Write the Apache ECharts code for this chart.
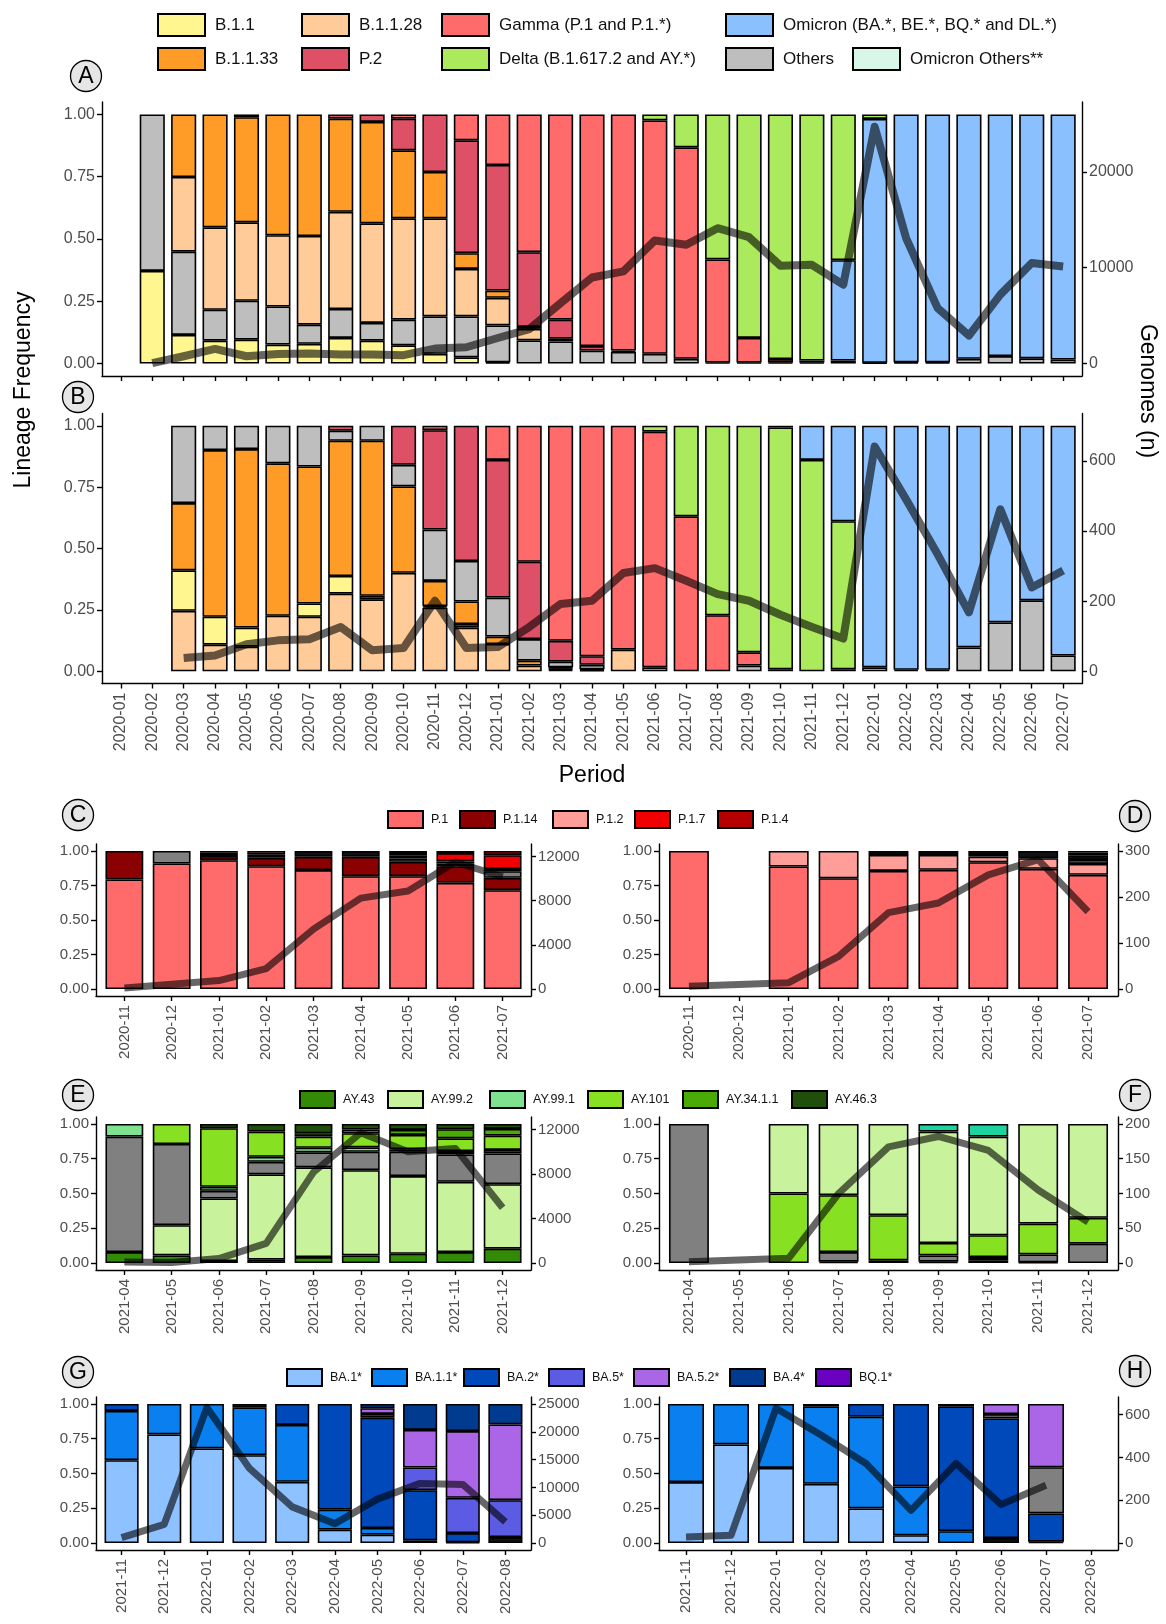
<!DOCTYPE html>
<html><head><meta charset="utf-8">
<script src="https://cdn.jsdelivr.net/npm/echarts@6/dist/echarts.min.js"></script>
<style>html,body{margin:0;padding:0;background:#fff}#c{width:1166px;height:1624px}</style>
</head><body><div id="c"></div>
<script>
// ---------------- DATA ----------------
const monthsAB = ['2020-01','2020-02','2020-03','2020-04','2020-05','2020-06','2020-07','2020-08','2020-09','2020-10','2020-11','2020-12','2021-01','2021-02','2021-03','2021-04','2021-05','2021-06','2021-07','2021-08','2021-09','2021-10','2021-11','2021-12','2022-01','2022-02','2022-03','2022-04','2022-05','2022-06','2022-07'];
const freqTicks = [0, 0.25, 0.5, 0.75, 1];

// Panel A (fractions per lineage)
const A_B11     = [null,0.372,0.115,0.092,0.096,0.076,0.079,0.103,0.092,0.073,0.039,0.025,0.005,null,null,null,null,null,null,null,null,null,null,null,null,null,null,null,null,null,null];
const A_Others  = [null,0.628,0.334,0.124,0.156,0.153,0.077,0.116,0.071,0.103,0.150,0.164,0.148,0.093,0.089,0.052,0.047,0.039,0.019,0.004,0.004,0.004,0.004,0.012,0.003,0.005,0.005,0.019,0.030,0.021,0.016];
const A_B1128   = [null,null,0.300,0.331,0.315,0.286,0.356,0.390,0.400,0.407,0.394,0.191,0.111,0.046,0.011,null,null,null,null,null,null,null,null,null,null,null,null,null,null,null,null];
const A_B1133   = [null,null,0.251,0.453,0.422,0.485,0.488,0.374,0.407,0.273,0.186,0.063,0.029,0.008,null,null,null,null,null,null,null,null,null,null,null,null,null,null,null,null,null];
const A_P2      = [null,null,null,null,0.011,null,null,0.017,0.030,0.127,0.231,0.453,0.504,0.300,0.076,0.018,0.005,null,null,null,null,null,null,null,null,null,null,null,null,null,null];
const A_Gamma   = [null,null,null,null,null,null,null,null,null,0.017,null,0.104,0.203,0.553,0.824,0.930,0.948,0.937,0.849,0.414,0.099,0.014,0.008,null,null,null,null,null,null,null,null];
const A_Omicron = [null,null,null,null,null,null,null,null,null,null,null,null,null,null,null,null,null,null,null,null,null,null,null,0.403,0.979,0.995,0.995,0.981,0.970,0.979,0.984];
const A_Delta   = [null,null,null,null,null,null,null,null,null,null,null,null,null,null,null,null,null,0.024,0.132,0.582,0.897,0.982,0.988,0.585,0.018,null,null,null,null,null,null];
const A_OmiOth  = [null,null,null,null,null,null,null,null,null,null,null,null,null,null,null,null,null,null,null,null,null,null,null,null,null,null,null,null,null,null,null];
const A_Genomes = [null,40,760,1525,760,1000,1040,940,940,870,1560,1700,2670,3600,6300,8980,9620,12850,12400,14130,13190,10200,10300,8230,24720,13090,5800,2920,7190,10490,10140];
const A_rightTicks = [0,10000,20000];

// Panel B
const B_B1128   = [null,null,0.246,0.108,0.100,0.226,0.222,0.316,0.293,0.401,0.259,0.178,0.111,0.023,0.006,0.004,0.088,null,null,null,null,null,null,null,null,null,null,null,null,null,null];
const B_B11     = [null,null,0.165,0.114,0.078,null,0.054,0.072,0.014,null,0.006,0.014,null,null,0.005,null,null,null,null,null,null,null,null,null,null,null,null,null,null,null,null];
const B_B1133   = [null,null,0.274,0.679,0.727,0.621,0.558,0.551,0.632,0.352,0.103,0.092,0.030,0.020,0.005,0.004,null,null,null,null,null,null,null,null,null,null,null,null,null,null,null];
const B_Others  = [null,null,0.315,0.099,0.095,0.153,0.166,0.041,0.061,0.088,0.209,0.165,0.159,0.088,0.023,0.018,null,0.016,null,null,0.023,0.008,null,null,null,0.006,0.006,0.097,0.199,0.289,0.064];
const B_P2      = [null,null,null,null,null,null,null,0.020,null,0.159,0.405,0.551,0.561,0.315,0.085,0.035,null,null,null,null,null,null,null,null,null,null,null,null,null,null,null];
const B_Gamma   = [null,null,null,null,null,null,null,null,null,null,0.018,null,0.139,0.554,0.876,0.939,0.912,0.960,0.631,0.228,0.054,null,null,0.008,null,null,null,null,null,null,null];
const B_Delta   = [null,null,null,null,null,null,null,null,null,null,null,null,null,null,null,null,null,0.024,0.369,0.772,0.923,0.985,0.861,0.603,0.016,null,null,null,null,null,null];
const B_Omicron = [null,null,null,null,null,null,null,null,null,null,null,null,null,null,null,null,null,null,null,null,null,0.007,0.139,0.389,0.984,0.994,0.994,0.903,0.801,0.711,0.936];
const B_Genomes = [null,null,38,45,77,88,91,126,60,66,201,66,69,126,192,201,280,294,258,220,201,161,126,93,641,490,334,168,462,239,287];
const B_rightTicks = [0,200,400,600];

// Panels C / D (Gamma sub-lineages)
const monthsCD = ['2020-11','2020-12','2021-01','2021-02','2021-03','2021-04','2021-05','2021-06','2021-07'];
const C_P1     = [0.793,0.909,0.933,0.889,0.861,0.817,0.817,0.769,0.716];
const C_P114   = [0.207,null,0.031,0.061,0.096,0.140,0.104,0.120,0.089];
const C_Others = [null,0.091,0.022,null,null,null,0.024,0.020,0.048];
const C_Minor  = [null,null,0.014,0.026,0.043,0.043,0.020,0.015,0.016];
const C_P12    = [null,null,null,0.024,null,null,null,null,null];
const C_P17    = [null,null,null,null,null,null,0.020,0.060,0.100];
const C_P14    = [null,null,null,null,null,null,0.015,0.016,0.031];
const C_Genomes = [100,440,770,1860,5420,8230,8880,11500,10150];
const C_rightTicks = [0,4000,8000,12000];

const D_P1     = [1.000,null,0.887,0.802,0.855,0.863,0.918,0.870,0.827];
const D_P12    = [null,null,0.113,0.198,0.116,0.108,0.041,0.077,0.079];
const D_Others = [null,null,null,null,null,null,0.012,null,0.029];
const D_Minor  = [null,null,null,null,0.029,0.029,0.029,0.053,0.030];
const D_P17    = [null,null,null,null,null,null,null,null,0.023];
const D_P14    = [null,null,null,null,null,null,null,null,0.012];
const D_Genomes = [6,null,14,71,166,187,248,281,168];
const D_rightTicks = [0,100,200,300];

// Panels E / F (Delta sub-lineages)
const monthsEF = ['2021-04','2021-05','2021-06','2021-07','2021-08','2021-09','2021-10','2021-11','2021-12'];
const E_AY43   = [0.079,0.055,0.014,0.024,0.043,0.055,0.067,0.079,0.103];
const E_AY992  = [null,0.217,0.450,0.613,0.645,0.613,0.558,0.505,0.464];
const E_Others = [0.830,0.584,0.055,0.091,0.108,0.132,0.175,0.197,0.221];
const E_AY991  = [0.091,null,0.029,0.036,0.033,0.032,0.019,0.024,0.025];
const E_AY101  = [null,0.144,0.421,0.181,0.080,0.101,0.102,0.092,0.103];
const E_AY3411 = [null,null,null,null,0.024,0.027,0.036,0.065,0.048];
const E_AY463  = [null,null,0.031,0.055,0.067,0.040,0.043,0.038,0.036];
const E_Genomes = [90,40,400,1770,8170,11700,10000,10300,4970];
const E_rightTicks = [0,4000,8000,12000];

const F_AY463  = [null,null,null,0.010,0.020,0.010,0.020,0.005,null];
const F_Others = [1.000,null,null,0.069,null,0.045,0.023,0.057,0.139];
const F_AY101  = [null,null,0.500,0.409,0.324,0.089,0.157,0.222,0.186];
const F_AY992  = [null,null,0.500,0.512,0.656,0.801,0.709,0.716,0.675];
const F_OtherAY = [null,null,null,null,null,0.055,0.091,null,null];
const F_Genomes = [2,null,7,100,167,182,162,105,59];
const F_rightTicks = [0,50,100,150,200];

// Panels G / H (Omicron sub-lineages)
const monthsGH = ['2021-11','2021-12','2022-01','2022-02','2022-03','2022-04','2022-05','2022-06','2022-07','2022-08'];
const G_Minor = [null,null,null,null,null,null,null,0.020,0.005,0.043];
const G_BA1   = [0.596,0.781,0.680,0.632,0.440,0.096,0.060,null,null,null];
const G_BA11  = [0.354,0.219,0.320,0.344,0.409,0.144,0.048,null,null,null];
const G_BA2   = [0.050,null,null,0.024,0.151,0.760,0.793,0.360,0.067,null];
const G_BA5   = [null,null,null,null,null,null,0.027,0.163,0.253,0.265];
const G_BA52  = [null,null,null,null,null,null,0.041,0.270,0.480,0.545];
const G_BA4   = [null,null,null,null,null,null,0.031,0.187,0.195,0.147];
const G_BQ1   = [null,null,null,null,null,null,null,null,null,null];
const G_Genomes = [960,3370,24380,13420,6500,3490,7890,10720,10540,3790];
const G_rightTicks = [0,5000,10000,15000,20000,25000];

const H_Minor  = [null,null,null,null,null,null,null,0.036,0.010,null];
const H_BA1    = [0.438,0.709,0.540,0.426,0.249,0.056,null,null,null,null];
const H_BA11   = [0.562,0.291,0.460,0.557,0.659,0.351,0.085,null,null,null];
const H_BA2    = [null,null,null,0.017,0.092,0.593,0.898,0.860,0.203,null];
const H_Others = [null,null,null,null,null,null,null,0.031,0.332,null];
const H_BA52   = [null,null,null,null,null,null,null,0.073,0.455,null];
const H_BA4    = [null,null,null,null,null,null,0.017,null,null,null];
const H_Genomes = [28,36,630,505,372,153,372,180,270,null];
const H_rightTicks = [0,200,400,600];

// ---------------- STYLE ----------------
const FONT = '"Liberation Sans", Arial, Helvetica, sans-serif';
const COL = {
  B11:'#FFF68F', B1128:'#FFCC99', Gamma:'#FF6A6A', Omicron:'#8BC0FF', B1133:'#FF9C28',
  P2:'#DE5065', Delta:'#AAEA5C', Others:'#BEBEBE', OmiOth:'#D8F7E8',
  Gray:'#808080', Minor:'#111111',
  P1:'#FF6A6A', P114:'#8B0000', P12:'#FF9E99', P17:'#F00000', P14:'#B40000',
  AY43:'#338A06', AY992:'#C8F29C', AY991:'#7FE28E', AY101:'#88E023', AY3411:'#4AAA08', AY463:'#1F4F0B', OtherAY:'#1DD3A0',
  BA1:'#8EC1FF', BA11:'#0A80F0', BA2:'#0049BA', BA5:'#5B5BE3', BA52:'#AA66E6', BA4:'#003B90', BQ1:'#6A00C0'
};
const AXC = '#000', LBC = '#4d4d4d';

const option = {
  animation: false, backgroundColor: '#fff',
  textStyle: {fontFamily: FONT},
  grid: [], xAxis: [], yAxis: [], series: [], legend: [], graphic: []
};

function addPanel(p) {
  const gi = option.grid.length;
  const n = p.cats.length;
  const u = p.w / (n + 0.2);
  const idx = p.cats.map((_, i) => i);
  option.grid.push({left: p.x, top: p.top, width: p.w, height: p.h});
  const line = {color: AXC, width: 1.4};
  option.xAxis.push({
    type: 'value', gridIndex: gi, min: -0.6, max: n - 0.4,
    axisLine: {show: true, onZero: false, lineStyle: line},
    axisTick: {show: true, length: 5, customValues: idx, lineStyle: line},
    axisLabel: {show: p.labels, customValues: idx, rotate: 90, margin: 9,
      formatter: v => p.cats[Math.round(v)] || '', fontSize: p.fs, color: LBC, fontFamily: FONT},
    splitLine: {show: false}
  });
  const yi = option.yAxis.length;
  option.yAxis.push({
    type: 'value', gridIndex: gi, position: 'left', min: -0.05, max: 1.05,
    axisLine: {show: true, onZero: false, lineStyle: line},
    axisTick: {show: true, length: 5, customValues: freqTicks, lineStyle: line},
    axisLabel: {customValues: freqTicks, formatter: v => v.toFixed(2), fontSize: p.fs, color: LBC, margin: 7, fontFamily: FONT},
    splitLine: {show: false}
  });
  option.yAxis.push({
    type: 'value', gridIndex: gi, position: 'right', min: -0.05 * p.k, max: 1.05 * p.k,
    axisLine: {show: true, onZero: false, lineStyle: line},
    axisTick: {show: true, length: 5, customValues: p.ticks, lineStyle: line},
    axisLabel: {customValues: p.ticks, formatter: v => String(v), fontSize: p.fs, color: LBC, margin: 7, fontFamily: FONT},
    splitLine: {show: false}
  });
  // value first (stacked dimension), category index second
  p.bars.forEach(b => option.series.push({
    type: 'bar', name: b[0], xAxisIndex: gi, yAxisIndex: yi, stack: 'st' + gi,
    barWidth: 0.8 * u, data: b[2].map((v, i) => [v, i]), encode: {x: 1, y: 0},
    itemStyle: {color: b[1], borderColor: '#000', borderWidth: 1.6},
    silent: true, emphasis: {disabled: true}
  }));
  option.series.push({
    type: 'line', name: 'Genomes', xAxisIndex: gi, yAxisIndex: yi + 1,
    data: p.genomes.map((v, i) => [i, v]), symbol: 'none', connectNulls: true,
    lineStyle: {color: 'rgba(0,0,0,0.6)', width: p.lw, join: 'round', cap: 'butt'},
    silent: true, z: 5
  });
}

addPanel({x: 102, w: 980, top: 102, h: 274, cats: monthsAB, labels: false, fs: 16, k: 26000, ticks: A_rightTicks, lw: 8,
  genomes: A_Genomes,
  bars: [['B.1.1', COL.B11, A_B11], ['Others', COL.Others, A_Others], ['B.1.1.28', COL.B1128, A_B1128],
         ['B.1.1.33', COL.B1133, A_B1133], ['P.2', COL.P2, A_P2], ['Gamma (P.1 and P.1.*)', COL.Gamma, A_Gamma],
         ['Omicron (BA.*, BE.*, BQ.* and DL.*)', COL.Omicron, A_Omicron], ['Omicron Others**', COL.OmiOth, A_OmiOth],
         ['Delta (B.1.617.2 and AY.*)', COL.Delta, A_Delta]]});
addPanel({x: 102, w: 980, top: 413.5, h: 270, cats: monthsAB, labels: true, fs: 16, k: 700, ticks: B_rightTicks, lw: 8,
  genomes: B_Genomes,
  bars: [['B.1.1.28', COL.B1128, B_B1128], ['B.1.1', COL.B11, B_B11], ['B.1.1.33', COL.B1133, B_B1133],
         ['Others', COL.Others, B_Others], ['P.2', COL.P2, B_P2], ['Gamma (P.1 and P.1.*)', COL.Gamma, B_Gamma],
         ['Delta (B.1.617.2 and AY.*)', COL.Delta, B_Delta], ['Omicron (BA.*, BE.*, BQ.* and DL.*)', COL.Omicron, B_Omicron]]});
addPanel({x: 96, w: 435, top: 844, h: 152, cats: monthsCD, labels: true, fs: 15, k: 12500, ticks: C_rightTicks, lw: 7,
  genomes: C_Genomes,
  bars: [['P.1', COL.P1, C_P1], ['P.1.14', COL.P114, C_P114], ['Other lineages', COL.Gray, C_Others],
         ['Minor lineages', COL.Minor, C_Minor], ['P.1.2', COL.P12, C_P12], ['P.1.7', COL.P17, C_P17], ['P.1.4', COL.P14, C_P14]]});
addPanel({x: 659, w: 459, top: 844, h: 152, cats: monthsCD, labels: true, fs: 15, k: 300, ticks: D_rightTicks, lw: 7,
  genomes: D_Genomes,
  bars: [['P.1', COL.P1, D_P1], ['P.1.2', COL.P12, D_P12], ['Other lineages', COL.Gray, D_Others],
         ['Minor lineages', COL.Minor, D_Minor], ['P.1.7', COL.P17, D_P17], ['P.1.4', COL.P14, D_P14]]});
addPanel({x: 96, w: 435, top: 1117, h: 153, cats: monthsEF, labels: true, fs: 15, k: 12500, ticks: E_rightTicks, lw: 7,
  genomes: E_Genomes,
  bars: [['AY.43', COL.AY43, E_AY43], ['AY.99.2', COL.AY992, E_AY992], ['Other lineages', COL.Gray, E_Others],
         ['AY.99.1', COL.AY991, E_AY991], ['AY.101', COL.AY101, E_AY101], ['AY.34.1.1', COL.AY3411, E_AY3411], ['AY.46.3', COL.AY463, E_AY463]]});
addPanel({x: 659, w: 459, top: 1117, h: 153, cats: monthsEF, labels: true, fs: 15, k: 200, ticks: F_rightTicks, lw: 7,
  genomes: F_Genomes,
  bars: [['AY.46.3', COL.AY463, F_AY463], ['Other lineages', COL.Gray, F_Others], ['AY.101', COL.AY101, F_AY101],
         ['AY.99.2', COL.AY992, F_AY992], ['Other AY', COL.OtherAY, F_OtherAY]]});
addPanel({x: 96, w: 435, top: 1397, h: 153, cats: monthsGH, labels: true, fs: 15, k: 25000, ticks: G_rightTicks, lw: 7,
  genomes: G_Genomes,
  bars: [['Minor lineages', COL.Minor, G_Minor], ['BA.1*', COL.BA1, G_BA1], ['BA.1.1*', COL.BA11, G_BA11], ['BA.2*', COL.BA2, G_BA2],
         ['BA.5*', COL.BA5, G_BA5], ['BA.5.2*', COL.BA52, G_BA52], ['BA.4*', COL.BA4, G_BA4], ['BQ.1*', COL.BQ1, G_BQ1]]});
addPanel({x: 659, w: 459, top: 1397, h: 153, cats: monthsGH, labels: true, fs: 15, k: 650, ticks: H_rightTicks, lw: 7,
  genomes: H_Genomes,
  bars: [['Minor lineages', COL.Minor, H_Minor], ['BA.1*', COL.BA1, H_BA1], ['BA.1.1*', COL.BA11, H_BA11], ['BA.2*', COL.BA2, H_BA2],
         ['Other lineages', COL.Gray, H_Others], ['BA.5.2*', COL.BA52, H_BA52], ['BA.4*', COL.BA4, H_BA4]]});

// ---------------- LEGENDS ----------------
function legendItem(name, x, y, w, h, fs, pad) {
  option.legend.push({
    data: [name], left: x, top: y, orient: 'horizontal', icon: 'rect',
    itemWidth: w, itemHeight: h, padding: 0, itemGap: 0, selectedMode: false,
    textStyle: {fontSize: fs, color: '#111', fontFamily: FONT, padding: [0, 0, 0, pad]}
  });
}
[['B.1.1',157,13],['B.1.1.28',301,13],['Gamma (P.1 and P.1.*)',441,13],['Omicron (BA.*, BE.*, BQ.* and DL.*)',725,13],
 ['B.1.1.33',157,47],['P.2',301,47],['Delta (B.1.617.2 and AY.*)',441,47],['Others',725,47],['Omicron Others**',852,47]]
 .forEach(d => legendItem(d[0], d[1], d[2], 47, 22, 17, 5));
[['P.1',387],['P.1.14',459],['P.1.2',552],['P.1.7',634],['P.1.4',717]].forEach(d => legendItem(d[0], d[1], 810, 35, 17, 12.5, 3));
[['AY.43',299],['AY.99.2',387],['AY.99.1',489],['AY.101',587],['AY.34.1.1',682],['AY.46.3',791]].forEach(d => legendItem(d[0], d[1], 1090, 35, 17, 12.5, 3));
[['BA.1*',286],['BA.1.1*',371],['BA.2*',463],['BA.5*',548],['BA.5.2*',633],['BA.4*',729],['BQ.1*',815]].forEach(d => legendItem(d[0], d[1], 1368, 35, 17, 12.5, 3));

// ---------------- ANNOTATIONS ----------------
[['A',86,76],['B',78,397],['C',78,815],['D',1135,816],['E',78,1095],['F',1135,1095],['G',78,1372],['H',1135,1371]].forEach(c => {
  option.graphic.push({type: 'circle', shape: {cx: c[1], cy: c[2], r: 15.5}, style: {fill: '#e6e6e6', stroke: '#000', lineWidth: 1.3}, z: 10});
  option.graphic.push({type: 'text', x: c[1], y: c[2] + 1, style: {text: c[0], fontSize: 23, fontFamily: FONT, fill: '#000', align: 'center', verticalAlign: 'middle'}, z: 11});
});
option.graphic.push({type: 'text', x: 24, y: 390, rotation: Math.PI / 2,
  style: {text: 'Lineage Frequency', fontSize: 23, fontFamily: FONT, fill: '#000', align: 'center', verticalAlign: 'middle'}});
option.graphic.push({type: 'text', x: 1147, y: 391, rotation: -Math.PI / 2,
  style: {text: 'Genomes (n)', fontSize: 23, fontFamily: FONT, fill: '#000', align: 'center', verticalAlign: 'middle'}});
option.graphic.push({type: 'text', x: 592, y: 776,
  style: {text: 'Period', fontSize: 23, fontFamily: FONT, fill: '#000', align: 'center', verticalAlign: 'middle'}});

const chart = echarts.init(document.getElementById('c'), null, {renderer: 'canvas'});
chart.setOption(option);
</script>
</body></html>
